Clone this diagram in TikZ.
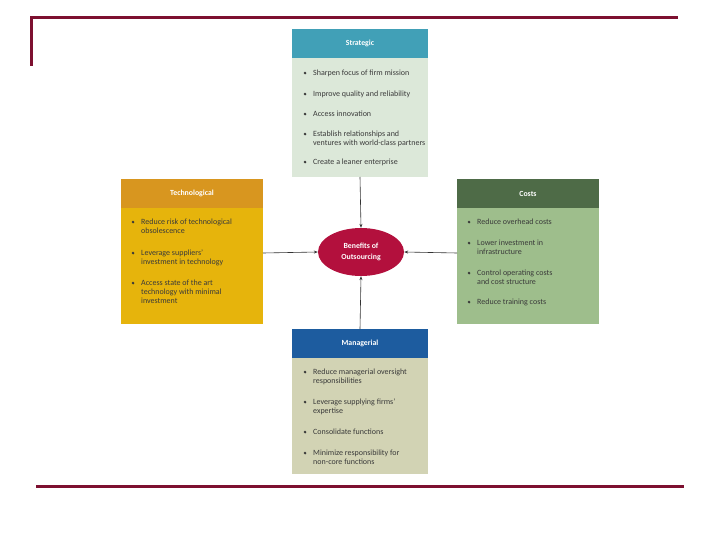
\documentclass[tikz,border=0pt]{standalone}
\usepackage{fontspec}
\setmainfont{Carlito}
\usetikzlibrary{arrows.meta,shapes.geometric,calc}
\definecolor{maroon}{HTML}{7D1030}
\definecolor{sthead}{HTML}{41A0B7}
\definecolor{stbody}{HTML}{DCE8D9}
\definecolor{tehead}{HTML}{D8961F}
\definecolor{tebody}{HTML}{E6B40C}
\definecolor{cohead}{HTML}{4E6B47}
\definecolor{cobody}{HTML}{9EBE8C}
\definecolor{mahead}{HTML}{1D5C9F}
\definecolor{mabody}{HTML}{D2D3B4}
\definecolor{ellcol}{HTML}{B3103D}
\definecolor{txt}{HTML}{3A3A3A}
\tikzset{
  itm/.style={anchor=north west, inner sep=0pt, align=left, text=txt,
    font=\fontsize{8}{9}\selectfont},
  hdr/.style={text=white, font=\fontsize{7.8}{9}\selectfont\bfseries, inner sep=0pt},
  connector/.style={draw=black!80, line width=0.6pt, -{Stealth[length=4pt,width=3pt]}},
  rule/.style={draw=maroon, line width=3pt}
}
\newcommand\bitem[3]{\node[itm] (#1) at ($(#2)+(0,-6)$) {\rule{0pt}{6pt}#3};
  \fill[txt] ([xshift=-8pt,yshift=-3.6pt]#1.north west) circle (1.4pt);}
\begin{document}
\begin{tikzpicture}[x=1pt,y=-1pt]
\useasboundingbox (0,0) rectangle (720,540);
% decorative rules
\coordinate (r1) at (31,66);
\coordinate (r2) at (31,17.5);
\coordinate (r3) at (678,17.5);
\draw[rule] (r1) -- (r2) -- (r3);
\coordinate (b1) at (36,486);
\coordinate (b2) at (684,486);
\draw[rule] (b1) -- (b2);
% Strategic
\fill[stbody] (292,58) rectangle (428,177);
\fill[sthead] (292,29) rectangle (428,58);
\node[hdr] (sth) at (360,43.5) {Strategic};
\bitem{s1}{313,75.5}{Sharpen focus of firm mission}
\bitem{s2}{313,96.5}{Improve quality and reliability}
\bitem{s3}{313,116.5}{Access innovation}
\bitem{s4}{313,136.5}{Establish relationships and\\ventures with world-class partners}
\bitem{s5}{313,164.5}{Create a leaner enterprise}
\coordinate (stb) at (360,177);
% Technological
\fill[tebody] (121,208) rectangle (263,324);
\fill[tehead] (121,179) rectangle (263,208);
\node[hdr] (teh) at (192,193.5) {Technological};
\bitem{t1}{141,224.5}{Reduce risk of technological\\obsolescence}
\bitem{t2}{141,255.5}{Leverage suppliers'\\investment in technology}
\bitem{t3}{141,285.5}{Access state of the art\\technology with minimal\\investment}
\coordinate (ter) at (263,253);
% Costs
\fill[cobody] (457,208) rectangle (599,324);
\fill[cohead] (457,179) rectangle (599,208);
\node[hdr] (coh) at (528,193.5) {Costs};
\bitem{c1}{477,224.5}{Reduce overhead costs}
\bitem{c2}{477,245.5}{Lower investment in\\infrastructure}
\bitem{c3}{477,275.5}{Control operating costs\\and cost structure}
\bitem{c4}{477,304.5}{Reduce training costs}
\coordinate (col) at (457,253);
% Managerial
\fill[mabody] (292,358) rectangle (428,474);
\fill[mahead] (292,329) rectangle (428,358);
\node[hdr] (mah) at (360,343.5) {Managerial};
\bitem{m1}{313,374.5}{Reduce managerial oversight\\responsibilities}
\bitem{m2}{313,404.5}{Leverage supplying firms'\\expertise}
\bitem{m3}{313,434.5}{Consolidate functions}
\bitem{m4}{313,455.5}{Minimize responsibility for\\non-core functions}
\coordinate (mat) at (360,329);
% center
\node[ellipse, fill=ellcol, minimum width=86pt, minimum height=48pt, inner sep=0pt,
  text=white, align=center, font=\fontsize{7.8}{11}\selectfont\bfseries] (ben) at (361,252) {Benefits of\\Outsourcing};
\draw[connector] (stb) -- (ben.north);
\draw[connector] (mat) -- (ben.south);
\draw[connector] (ter) -- (ben.west);
\draw[connector] (col) -- (ben.east);
\end{tikzpicture}
\end{document}
